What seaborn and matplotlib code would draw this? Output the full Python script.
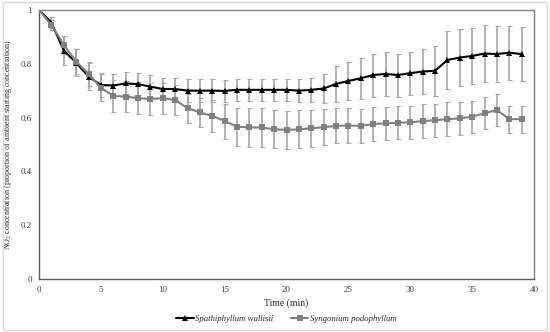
import numpy as np
import pandas as pd
import matplotlib
matplotlib.use("Agg")
import matplotlib.pyplot as plt
import seaborn as sns

# time points (min)
time = list(range(40))

# Spathiphyllum wallisii - mean proportion and error
spath = [1.000, 0.953, 0.849, 0.804, 0.752, 0.721, 0.719, 0.727, 0.724, 0.715,
         0.706, 0.706, 0.700, 0.700, 0.700, 0.699, 0.703, 0.703, 0.703, 0.703,
         0.703, 0.700, 0.703, 0.708, 0.725, 0.736, 0.746, 0.758, 0.762, 0.758,
         0.765, 0.771, 0.774, 0.814, 0.823, 0.829, 0.838, 0.836, 0.841, 0.836]
spath_err = [0.000, 0.020, 0.055, 0.050, 0.050, 0.045, 0.042, 0.042, 0.042, 0.042,
             0.042, 0.042, 0.042, 0.042, 0.042, 0.042, 0.042, 0.042, 0.042, 0.042,
             0.042, 0.042, 0.045, 0.055, 0.067, 0.070, 0.076, 0.080, 0.082, 0.080,
             0.080, 0.085, 0.093, 0.108, 0.105, 0.105, 0.107, 0.105, 0.100, 0.100]

# Syngonium podophyllum - mean proportion and error
syng = [1.000, 0.944, 0.870, 0.808, 0.762, 0.711, 0.680, 0.678, 0.672, 0.669,
        0.672, 0.665, 0.635, 0.619, 0.606, 0.587, 0.566, 0.563, 0.563, 0.556,
        0.554, 0.556, 0.560, 0.564, 0.569, 0.570, 0.569, 0.576, 0.578, 0.581,
        0.582, 0.587, 0.590, 0.594, 0.597, 0.603, 0.616, 0.628, 0.594, 0.594]
syng_err = [0.000, 0.020, 0.035, 0.045, 0.045, 0.050, 0.058, 0.058, 0.060, 0.060,
            0.058, 0.056, 0.054, 0.055, 0.060, 0.065, 0.071, 0.071, 0.071, 0.071,
            0.071, 0.071, 0.068, 0.066, 0.065, 0.064, 0.063, 0.062, 0.062, 0.062,
            0.062, 0.062, 0.062, 0.062, 0.061, 0.060, 0.060, 0.060, 0.050, 0.050]

labels = ["Spathiphyllum wallisii", "Syngonium podophyllum"]

df = pd.concat([
    pd.DataFrame({"time": time, "conc": spath, "err": spath_err, "species": labels[0]}),
    pd.DataFrame({"time": time, "conc": syng, "err": syng_err, "species": labels[1]}),
])

sns.set_style("white")
plt.rcParams["font.family"] = ["Liberation Serif", "DejaVu Serif"]
plt.rcParams["mathtext.fontset"] = "stix"

fig, ax = plt.subplots(figsize=(5.5, 3.32), dpi=100)
fig.subplots_adjust(left=0.071, right=0.971, top=0.970, bottom=0.160)

colors = {labels[0]: "#000000", labels[1]: "#808080"}

# error bars first (light gray)
for sp in labels:
    d = df[df["species"] == sp]
    ax.errorbar(d["time"], d["conc"], yerr=d["err"], fmt="none",
                ecolor="#a6a6a6", elinewidth=1.2, capsize=1.8, capthick=0.8, zorder=1)

sns.lineplot(data=df, x="time", y="conc", hue="species", style="species",
             palette=colors, markers={labels[0]: "^", labels[1]: "s"},
             dashes=False, markersize=4, markeredgewidth=0, linewidth=1.5,
             ax=ax, zorder=3)

ax.set_xlim(0, 40)
ax.set_ylim(0, 1)
ax.set_xticks(range(0, 41, 5))
ax.set_yticks([0, 0.2, 0.4, 0.6, 0.8, 1.0])
ax.set_yticklabels(["0", "0.2", "0.4", "0.6", "0.8", "1"])
ax.tick_params(length=0, labelsize=6.5, colors="#404040", pad=5)

for s in ax.spines.values():
    s.set_visible(True)
    s.set_color("#808080")
    s.set_linewidth(1.0)
ax.spines["left"].set_color("#595959")
ax.spines["bottom"].set_color("#595959")

ax.set_xlabel("Time (min)", fontsize=7, color="#262626", labelpad=3)
ax.set_ylabel("NO$_2$ concentration (proportion of ambient starting concentration)",
              fontsize=5.8, color="#262626", labelpad=5)

ax.legend(loc="upper center", bbox_to_anchor=(0.5, -0.105), ncol=2, frameon=False,
          prop={"family": "Liberation Serif", "style": "italic", "size": 6.3},
          handlelength=2.0, handletextpad=0.2, columnspacing=2.0, title=None)

# light border around the whole figure
fig.patches.append(plt.Rectangle((0.006, 0.006), 0.988, 0.988, transform=fig.transFigure,
                                 fill=False, edgecolor="#d9d9d9", linewidth=1.0))

fig.savefig("out.png", dpi=100)
